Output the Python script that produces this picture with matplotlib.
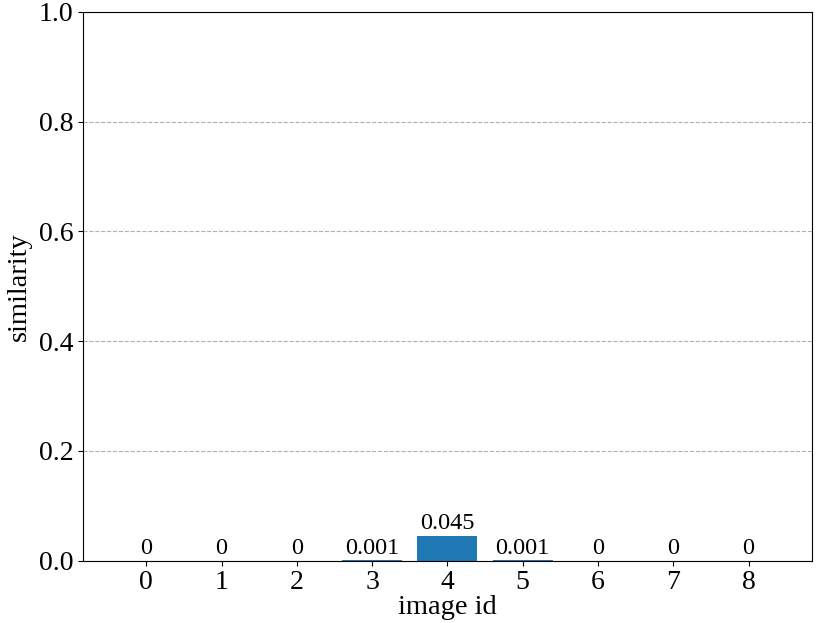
import matplotlib
matplotlib.use("Agg")
import matplotlib.pyplot as plt

# data
image_ids = [0, 1, 2, 3, 4, 5, 6, 7, 8]
similarity = [0, 0, 0, 0.001, 0.045, 0.001, 0, 0, 0]
value_labels = ["0", "0", "0", "0.001", "0.045", "0.001", "0", "0", "0"]

plt.rcParams['font.family'] = ['Liberation Serif', 'DejaVu Serif']

fig, ax = plt.subplots(figsize=(8.3, 6.23), dpi=100)
fig.subplots_adjust(left=0.1, right=0.978, top=0.981, bottom=0.1)

bars = ax.bar(image_ids, similarity, width=0.8, color='#1f77b4')
for b, txt in zip(bars, value_labels):
    ax.text(b.get_x() + b.get_width() / 2, b.get_height() + 0.003, txt,
            ha='center', va='bottom', fontsize=17.5)

ax.set_ylim(0, 1.0)
ax.set_xticks(image_ids)
ax.tick_params(labelsize=20)
ax.yaxis.grid(True, linestyle='--', color='#b0b0b0')
ax.set_axisbelow(True)
ax.set_xlabel('image id', fontsize=20.5, labelpad=0)
ax.set_ylabel('similarity', fontsize=20.5, labelpad=5)

plt.savefig('out.png', dpi=100)
